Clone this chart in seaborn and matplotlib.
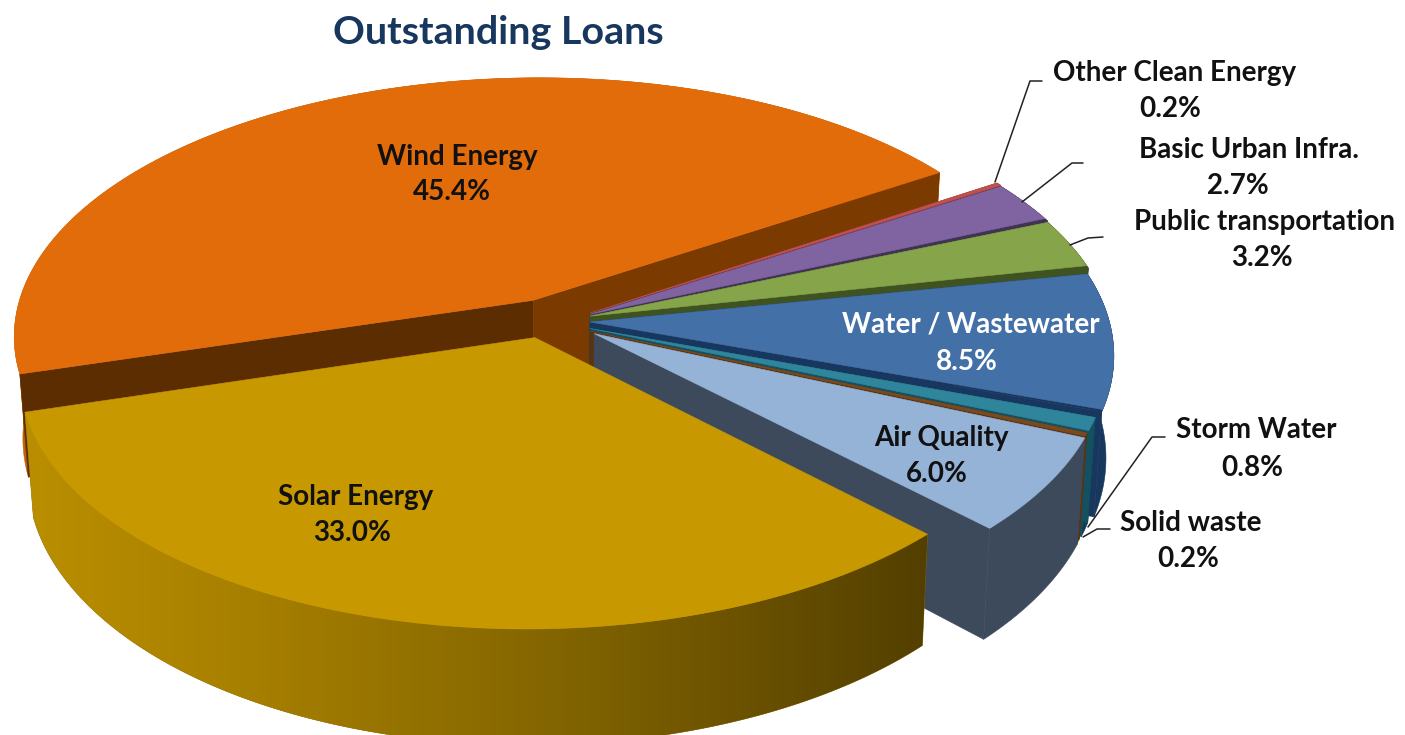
import numpy as np
import seaborn as sns
import matplotlib
matplotlib.use("Agg")
import matplotlib.pyplot as plt
from matplotlib.patches import Polygon
from matplotlib.colors import LinearSegmentedColormap

# ---- data (clockwise from the top right)
categories = ["Other Clean Energy", "Basic Urban Infra.", "Public transportation",
              "Water / Wastewater", "Storm Water", "Solid waste", "Air Quality",
              "Solar Energy", "Wind Energy"]
shares = [0.2, 2.7, 3.2, 8.5, 0.8, 0.2, 6.0, 33.0, 45.4]
title = "Outstanding Loans"

# ---- style
top_colors = ["#c0504d", "#8064a2", "#86a44a", "#4470a8", "#2f859c", "#7a4a1f",
              "#95b3d7", "#c89800", "#e26b0a"]
rim_colors = ["#7a2f2d", "#4b3a63", "#3f5321", "#17375e", "#123f55", "#5a3410",
              "#3d4a5c", "#8c6c00", "#c2610a"]
cut_low = ["#7a2f2d", "#403354", "#3f5321", "#17375e", "#14505f", "#5a3410",
           "#3d4a5c", "#8c6c00", "#7a3a00"]
cut_high = ["#7a2f2d", "#403354", "#3f5321", "#17375e", "#14505f", "#5a3410",
            "#3d4a5c", "#8c6c00", "#5c2d00"]
gaps = [0.0, 0.6, 0.6, 0.5, 0.0, 0.0, 0.0, 0.0, 0.0]
offsets = [(0, 0), (0, -0.005), (0, -0.012), (0, -0.035), (0, -0.06), (0, -0.07),
           (0.008, -0.08), (-0.105, -0.095), (-0.11, 0.05)]
radii = [1, 1, 1, 0.995, 0.98, 0.975, 0.965, 0.97, 0.995]
show_cut = [True] * 7 + [False, True]
paint_order = [8, 0, 1, 2, 3, 4, 5, 6, 7]
solar_ramp = ["#bd9000", "#a88000", "#8c6c00", "#6e5400", "#4f3c00"]

text_colors = ["#111111"] * 3 + ["white"] + ["#111111"] * 5
name_xy = [(1175, 73), (1249, 150), (1265, 222), (971, 324), (1256, 430),
           (1191, 523), (941, 438), (356, 497), (457, 157)]
pct_xy = [(1170, 109), (1238, 186), (1262, 258), (967, 362), (1252, 468),
          (1188, 559), (937, 474), (352, 533), (452, 192)]
leaders = [[(995, 182), (1030, 81), (1042, 81)],
           [(1022, 202), (1072, 163), (1083, 163)],
           [(1070, 245), (1088, 238), (1103, 237)],
           [(1088, 527), (1152, 437), (1165, 437)],
           [(1083, 537), (1097, 529), (1110, 529)]]

sns.set_theme(style="white")
plt.rcParams["font.family"] = ["Lato", "DejaVu Sans"]

fig = plt.figure(figsize=(14.05, 7.35), dpi=100)
ax = fig.add_axes([0, 0, 1, 1])

# the pie itself sets the angles of the slices; they are then seen in perspective
wedges, _ = ax.pie(shares, startangle=33, counterclock=False)
angles = [(w.theta1, w.theta2) for w in wedges]
for w in wedges:
    w.remove()
ax.set_aspect("auto")
ax.set_xlim(0, 1405)
ax.set_ylim(735, 0)
ax.axis("off")

APEX = (590.0, 313.0)
SX, SY, PERSP, DEPTH, SHRINK = 519.6, 255.6, 0.13, 100.0, 0.015


def project(x, y, z=0.0):
    x, y = np.asarray(x, float), np.asarray(y, float)
    w = 1 + PERSP * y
    return (APEX[0] + SX * (x / w) * (1 - SHRINK * z),
            APEX[1] - SY * (y / w) + z * DEPTH / w)


def arc(i, t1=None, t2=None):
    a, b = angles[i]
    a = a if t1 is None else t1
    b = b if t2 is None else t2
    t = np.radians(np.linspace(a, b, 160))
    ox, oy = offsets[i]
    return ox + radii[i] * np.cos(t), oy + radii[i] * np.sin(t)


def poly(px, py, color, z):
    p = Polygon(np.column_stack([px, py]), closed=True, facecolor=color,
                edgecolor=color, linewidth=0.4, zorder=z)
    ax.add_patch(p)
    return p


z = 1
for i in paint_order:
    ox, oy = offsets[i]
    ax_, ay_ = arc(i)
    apx, apy = project(ox, oy)
    apx1, apy1 = project(ox, oy, 1)
    # rim
    tx, ty = project(ax_, ay_)
    bx, by = project(ax_, ay_, 1)
    rim = poly(np.r_[tx, bx[::-1]], np.r_[ty, by[::-1]], rim_colors[i], z)
    z += 1
    if categories[i] == "Solar Energy":
        cmap = LinearSegmentedColormap.from_list("solar", solar_ramp)
        im = ax.imshow(np.linspace(0, 1, 256)[None, :], cmap=cmap, aspect="auto",
                       extent=(0, 960, 760, 300), zorder=z)
        im.set_clip_path(rim)
        ax.set_xlim(0, 1405)
        ax.set_ylim(735, 0)
        z += 1
    # cut faces
    if show_cut[i]:
        for end, col in ((-1, cut_high[i]), (0, cut_low[i])):
            ex, ey = project(ax_[end], ay_[end])
            ex1, ey1 = project(ax_[end], ay_[end], 1)
            poly([apx, ex, ex1, apx1], [apy, ey, ey1, apy1], col, z)
            z += 1
    # dark under-face that shows in the gap, then the slice's top
    if gaps[i]:
        poly(np.r_[apx, tx], np.r_[apy, ty], cut_low[i], z)
        z += 1
    a, b = angles[i]
    gx, gy = project(*arc(i, a + gaps[i], b))
    poly(np.r_[apx, gx], np.r_[apy, gy], top_colors[i], z)
    z += 1

for pts in leaders:
    xs, ys = zip(*pts)
    ax.plot(xs, ys, color="#222222", lw=1.1, zorder=z, solid_capstyle="round")

for name, v, nxy, pxy, c in zip(categories, shares, name_xy, pct_xy, text_colors):
    ax.text(*nxy, name, ha="center", va="center", fontsize=20, fontweight="bold",
            color=c, zorder=z + 1)
    ax.text(*pxy, f"{v:.1f}%", ha="center", va="center", fontsize=20, fontweight="bold",
            color=c, zorder=z + 1)

ax.text(498, 32, title, ha="center", va="center", fontsize=28.4, fontweight="bold",
        color="#17375e", zorder=z + 1)

fig.savefig("out.png", dpi=100, facecolor="white")
